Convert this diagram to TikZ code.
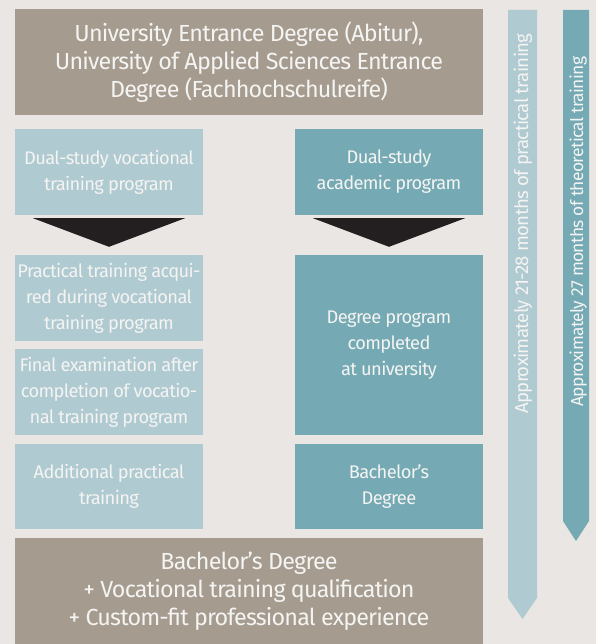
\documentclass[tikz,border=0pt]{standalone}
\usepackage{fontspec}
\setmainfont{Fira Sans}[LetterSpace=-3.5]
\usetikzlibrary{calc}

\definecolor{bgc}{HTML}{E9E6E3}
\definecolor{taupe}{HTML}{A59B8F}
\definecolor{lblue}{HTML}{B0CAD1}
\definecolor{teal}{HTML}{75AAB5}
\definecolor{arr}{HTML}{231F20}
\definecolor{txt}{HTML}{F4F4F2}

\begin{document}
\begin{tikzpicture}[x=1pt,y=-1pt]

\tikzstyle{big} = [fill=taupe, text=txt, inner sep=0pt, minimum width=468pt, minimum height=106pt, align=center, font={\fontsize{23.3}{28}\selectfont}]
\tikzstyle{v} = [fill=lblue, text=txt, inner sep=0pt, minimum width=188pt, minimum height=86pt, align=center, font={\fontsize{18.3}{26}\selectfont}]
\tikzstyle{a} = [v, fill=teal]
\tikzstyle{tri} = [fill=arr]
\tikzstyle{bar} = [text=txt, rotate=90, anchor=base west, inner sep=0pt, font={\fontsize{18.6}{20}\selectfont}]

\useasboundingbox (0,0) rectangle (596,644);
\fill[bgc] (0,0) rectangle (596,644);

% top and bottom
\node[big] (entry) at (249,62) {University Entrance Degree (Abitur),\\University of Applied Sciences Entrance\\Degree (Fachhochschulreife)};
\node[big] (result) at (249,591) {Bachelor’s Degree\\+ Vocational training qualification\\+ Custom-fit professional experience};

% vocational training column
\node[v] (dsv) at (109,172) {Dual-study vocational\\training program};
\node[v] (pta) at (109,298) {Practical training acqui-\\red during vocational\\training program};
\node[v] (fex) at (109,392) {Final examination after\\completion of vocatio-\\nal training program};
\node[v, minimum height=85pt] (apt) at (109,486.5) {Additional practical\\training};

% academic column
\node[a] (dsa) at (389,172) {Dual-study\\academic program};
\node[a, minimum height=180pt] (dpc) at (389,345) {Degree program\\completed\\at university};
\node[a, minimum height=85pt] (bd) at (389,486.5) {Bachelor’s\\Degree};

\fill[tri] ([xshift=-76pt,yshift=-3pt]dsv.south) -- ([xshift=76pt,yshift=-3pt]dsv.south) -- ([yshift=8pt]pta.north) -- cycle;
\fill[tri] ([xshift=-76pt,yshift=-3pt]dsa.south) -- ([xshift=76pt,yshift=-3pt]dsa.south) -- ([yshift=8pt]dpc.north) -- cycle;

% time bars
\fill[lblue] (508,10) -- (537,10) -- (537,598) -- (522.5,619) -- (508,598) -- cycle;
\fill[teal] (563,10) -- (589,10) -- (589,521) -- (576,541) -- (563,521) -- cycle;
\node[bar] (prac) at (528,414) {Approximately 21-28 months of practical training};
\node[bar, font={\fontsize{17.4}{20}\selectfont}] (theo) at (583,407) {Approximately 27 months of theoretical training};

\end{tikzpicture}
\end{document}
